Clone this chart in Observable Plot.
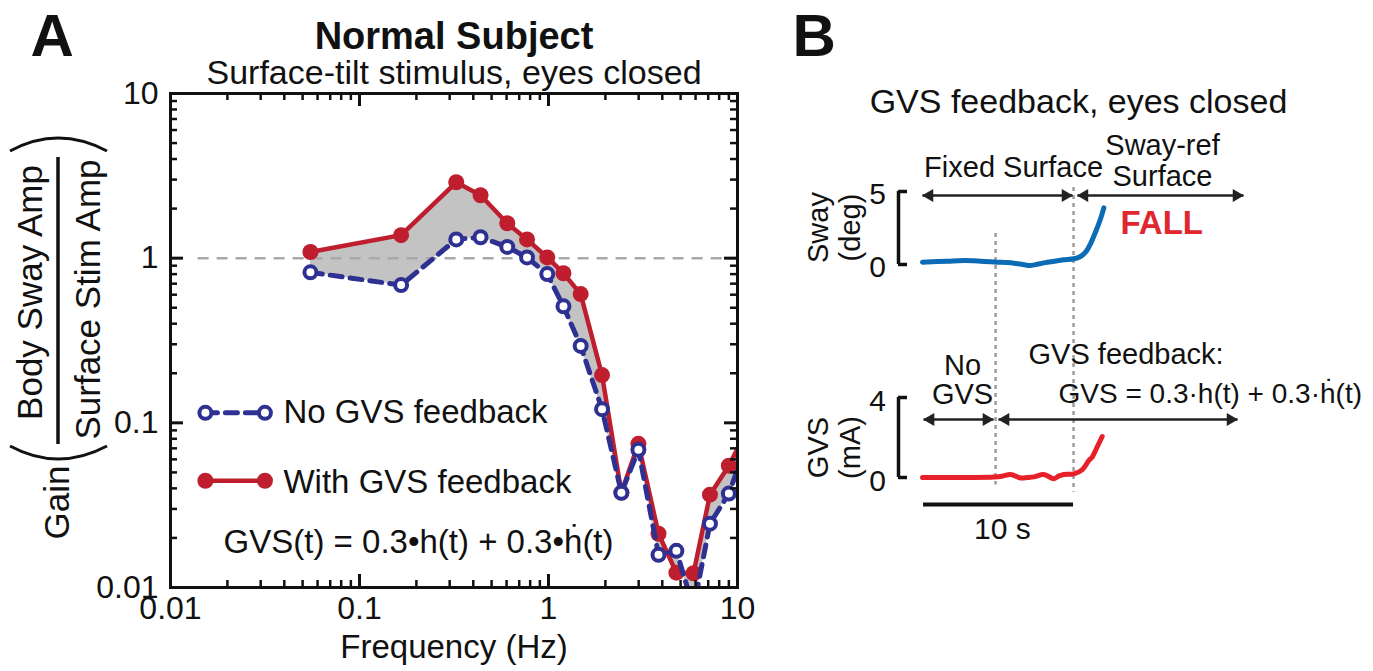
<!DOCTYPE html>
<html><head><meta charset="utf-8">
<script src="https://cdn.jsdelivr.net/npm/d3@7"></script>
<script src="https://cdn.jsdelivr.net/npm/@observablehq/plot@0.6"></script>
<style>
html,body{margin:0;padding:0;background:#fff;}
#wrap{position:relative;width:1373px;height:671px;overflow:hidden;}
#wrap svg{position:absolute;top:0;}
</style></head><body><div id="wrap"></div>
<script>
// ---------- Panel A data ----------
const freqHz      = [0.055, 0.166, 0.325, 0.437, 0.605, 0.77, 0.985, 1.2, 1.48, 1.92, 2.43, 2.99, 3.82, 4.75, 5.85, 7.15, 9.0, 11.2];
const gainWithGVS = [1.09, 1.38, 2.89, 2.41, 1.63, 1.30, 1.01, 0.81, 0.605, 0.195, 0.0377, 0.0746, 0.0212, 0.0123, 0.0122, 0.0366, 0.0549, 0.09];
const gainNoGVS   = [0.82, 0.686, 1.30, 1.34, 1.17, 1.01, 0.80, 0.51, 0.293, 0.121, 0.0376, 0.0686, 0.0158, 0.0167, 0.0075, 0.0244, 0.0372, 0.075];
const decadeTicks = [0.01, 0.1, 1, 10];
const minorMult   = [2, 3, 4, 5, 6, 7, 8, 9];
// legend (positions in Hz / gain units)
const legendSampleX = [0.0153, 0.0316];
const legendRows = [
  {label: "No GVS feedback",   gain: 0.115,  base: 0.1,    key: "blue"},
  {label: "With GVS feedback", gain: 0.0445, base: 0.0377, key: "red"}
];
const legendTextX = 0.0396;
const formulaA = {label: "GVS(t) = 0.3\u2022h(t) + 0.3\u2022\u1E23(t)", f: 0.0191, gain: 0.0161};

// ---------- Panel B data ----------
const swayT   = [0, 1.67, 2.78, 3.87, 4.98, 5.6, 6.09, 6.7, 7.2, 7.8, 8.31, 8.9, 9.42, 10.09, 10.53, 10.87, 11.2, 11.53, 11.87, 12.09];
const swayDeg = [0.16, 0.23, 0.27, 0.23, 0.16, 0.13, 0.09, 0.0, -0.07, 0.05, 0.16, 0.24, 0.32, 0.39, 0.55, 0.84, 1.42, 2.21, 3.13, 3.88];
const gvsT    = [0, 1.67, 3.0, 4.76, 5.3, 5.87, 6.53, 7.0, 7.42, 8.09, 8.76, 9.1, 9.42, 10.09, 10.64, 11.09, 11.31, 11.64, 11.98];
const gvsMA   = [0, 0, 0, 0.02, 0.06, 0.15, -0.02, 0.0, 0.03, 0.15, -0.06, 0.08, 0.15, 0.18, 0.38, 0.85, 1.02, 1.52, 2.05];
const swayScaleTicks = [0, 5];
const gvsScaleTicks  = [0, 4];
// annotations (seconds / deg)
const swayArrows = [{t1: 0, t2: 10.0, v: 4.73}, {t1: 10.33, t2: 21.4, v: 4.73}];
const dividers   = [{t: 4.87, v1: 2.12, v2: -15.1}, {t: 10.07, v1: 5.27, v2: -15.6}];
const swayTexts  = [
  {t: 6.07, v: 5.96, label: "Fixed Surface"},
  {t: 16.0, v: 7.5, label: "Sway-ref"},
  {t: 16.0, v: 5.41, label: "Surface"}
];
// annotations (seconds / mA)
const gvsArrows = [{t1: 0.07, t2: 4.73, v: 2.9}, {t1: 5.07, t2: 21.0, v: 2.9}];
const gvsNoTexts = [
  {t: 2.67, v: 5.12, label: "No"},
  {t: 2.67, v: 3.68, label: "GVS"}
];
const gvsFbTexts = [
  {t: 7.07, v: 5.7, label: "GVS feedback:", size: 29},
  {t: 9.07, v: 3.75, label: "GVS = 0.3\u00B7h(t) + 0.3\u00B7\u1E23(t)", size: 28}
];
const timeBar = {t1: 0.07, t2: 10.07, v: -1.35, label: "10 s", tl: 5.33, vl: -3.05};

const FONT = "'Liberation Sans', Arial, Helvetica, sans-serif";
const RED = "#be1e2d", BLUE = "#2e3192";

// ---------- Panel A ----------
const A = {width: 760, height: 671, mL: 170, mR: 23, mT: 93, mB: 84};
const fw = A.width - A.mL - A.mR, fh = A.height - A.mT - A.mB;
const minorTicks = [];
for (const d of decadeTicks.slice(0, 3)) for (const k of minorMult) minorTicks.push(+(d * k).toPrecision(2));
const gainData = freqHz.map((f, i) => ({f, red: gainWithGVS[i], blue: gainNoGVS[i]}));
const legendLines = legendRows.flatMap(r => legendSampleX.map(x => ({x, gain: r.gain, key: r.key})));
const MAJ = 13, MIN = 7;
const midY = A.mT + fh / 2;

const plotA = Plot.plot({
  width: A.width, height: A.height,
  marginLeft: A.mL, marginRight: A.mR, marginTop: A.mT, marginBottom: A.mB,
  x: {type: "log", domain: [0.01, 10]},
  y: {type: "log", domain: [0.01, 10]},
  style: {fontFamily: FONT, fontSize: "32px", background: "none", overflow: "visible", color: "#111"},
  marks: [
    Plot.areaY(gainData, {x: "f", y1: "blue", y2: "red", fill: "#c3c3c3", clip: true}),
    Plot.ruleY([1], {x1: 0.014, x2: 10, stroke: "#a9a9a9", strokeWidth: 2.5, strokeDasharray: "11,8"}),
    Plot.line(gainData, {x: "f", y: "red", stroke: RED, strokeWidth: 4.5, clip: true}),
    Plot.dot(gainData, {x: "f", y: "red", r: 8, fill: RED, clip: true}),
    Plot.line(gainData, {x: "f", y: "blue", stroke: BLUE, strokeWidth: 5, strokeDasharray: "12,8", clip: true}),
    Plot.dot(gainData, {x: "f", y: "blue", r: 6, fill: "white", stroke: BLUE, strokeWidth: 4, clip: true}),
    // legend
    Plot.line(legendLines.filter(d => d.key === "red"), {x: "x", y: "gain", stroke: RED, strokeWidth: 4.5}),
    Plot.dot(legendLines.filter(d => d.key === "red"), {x: "x", y: "gain", r: 8, fill: RED}),
    Plot.line(legendLines.filter(d => d.key === "blue"), {x: "x", y: "gain", stroke: BLUE, strokeWidth: 5, strokeDasharray: "12,8"}),
    Plot.dot(legendLines.filter(d => d.key === "blue"), {x: "x", y: "gain", r: 6, fill: "white", stroke: BLUE, strokeWidth: 4}),
    Plot.text(legendRows, {x: () => legendTextX, y: "base", text: "label", textAnchor: "start", lineAnchor: "bottom", fontSize: 33, fill: "#111"}),
    Plot.text([formulaA], {x: "f", y: "gain", text: "label", textAnchor: "start", lineAnchor: "bottom", fontSize: 33, fill: "#111"}),
    // inward ticks on all sides
    Plot.tickX(decadeTicks, {insetTop: fh - MAJ, strokeWidth: 3}),
    Plot.tickX(minorTicks, {insetTop: fh - MIN, strokeWidth: 2.5}),
    Plot.tickX(decadeTicks, {insetBottom: fh - MAJ, strokeWidth: 3}),
    Plot.tickX(minorTicks, {insetBottom: fh - MIN, strokeWidth: 2.5}),
    Plot.tickY(decadeTicks, {insetRight: fw - MAJ, strokeWidth: 3}),
    Plot.tickY(minorTicks, {insetRight: fw - MIN, strokeWidth: 2.5}),
    Plot.tickY(decadeTicks, {insetLeft: fw - MAJ, strokeWidth: 3}),
    Plot.tickY(minorTicks, {insetLeft: fw - MIN, strokeWidth: 2.5}),
    Plot.frame({strokeWidth: 3, stroke: "#111"}),
    Plot.axisX(decadeTicks, {tickSize: 0, tickPadding: 9, tickFormat: d => String(d), fontSize: 32, label: null}),
    Plot.axisY(decadeTicks, {tickSize: 0, tickPadding: 12, tickFormat: d => String(d), fontSize: 32, label: null}),
    Plot.text(["Frequency (Hz)"], {frameAnchor: "bottom", dy: 70, lineAnchor: "bottom", fontSize: 33}),
    // y-axis label pieces
    Plot.text(["Body Sway Amp"], {frameAnchor: "left", rotate: -90, textAnchor: "middle", lineAnchor: "middle", dx: 30 - A.mL, dy: 292 - midY, fontSize: 35}),
    Plot.text(["Surface Stim Amp"], {frameAnchor: "left", rotate: -90, textAnchor: "middle", lineAnchor: "middle", dx: 88 - A.mL, dy: 299 - midY, fontSize: 35}),
    Plot.text(["Gain"], {frameAnchor: "left", rotate: -90, textAnchor: "middle", lineAnchor: "middle", dx: 57 - A.mL, dy: 502 - midY, fontSize: 35}),
    // titles
    Plot.text(["Normal Subject"], {frameAnchor: "top", dy: -45, lineAnchor: "bottom", fontSize: 38, fontWeight: "bold"}),
    Plot.text(["Surface-tilt stimulus, eyes closed"], {frameAnchor: "top", dy: -10, lineAnchor: "bottom", fontSize: 34}),
    Plot.text(["A"], {frameAnchor: "top-left", dx: 30 - A.mL, dy: 55 - A.mT, textAnchor: "start", lineAnchor: "bottom", fontSize: 60, fontWeight: "bold"})
  ]
});
plotA.style.left = "0px";
// fraction bar and parentheses of the y label (decoration)
const gA = d3.select(plotA).append("g").attr("fill", "none").attr("stroke", "#111").attr("stroke-width", 3.5);
gA.append("line").attr("x1", 58).attr("x2", 58).attr("y1", 157).attr("y2", 444);
gA.append("path").attr("stroke-width", 3).attr("d", "M10,151 Q58,125 107,151");
gA.append("path").attr("stroke-width", 3).attr("d", "M10,446 Q58,472 107,446");
document.getElementById("wrap").appendChild(plotA);

// ---------- Panel B ----------
const B = {width: 603, height: 671, mL: 152, mR: 1};
const swayData = swayT.map((t, i) => ({t, v: swayDeg[i]}));
const gvsData = gvsT.map((t, i) => ({t, v: gvsMA[i]}));
const BR = -1.6, BRT = -1.0, LBLX = -3.0;
const arrowMarks = arr => [
  Plot.link(arr, {x1: "t1", x2: "t2", y1: "v", y2: "v", stroke: "#222", strokeWidth: 2.5}),
  Plot.dot(arr, {x: "t1", y: "v", symbol: "triangle", rotate: -90, r: 4.8, fill: "#222", dx: 7}),
  Plot.dot(arr, {x: "t2", y: "v", symbol: "triangle", rotate: 90, r: 4.8, fill: "#222", dx: -7})
];
const styleB = {fontFamily: FONT, fontSize: "29px", background: "none", overflow: "visible", color: "#111"};

const plotB1 = Plot.plot({
  width: B.width, height: B.height, marginLeft: B.mL, marginRight: B.mR, marginTop: 191, marginBottom: 407,
  x: {domain: [0, 30], axis: null},
  y: {domain: [0, 5], axis: null},
  style: styleB,
  marks: [
    Plot.ruleX(dividers, {x: "t", y1: "v1", y2: "v2", stroke: "#9c9c9c", strokeWidth: 2.5, strokeDasharray: "4,4"}),
    Plot.line(swayData, {x: "t", y: "v", stroke: "#0b6cb5", strokeWidth: 5, curve: "catmull-rom", strokeLinecap: "round"}),
    Plot.ruleX([BR], {y1: swayScaleTicks[0], y2: swayScaleTicks[1], stroke: "#111", strokeWidth: 3.5}),
    Plot.ruleY(swayScaleTicks, {x1: BR, x2: BRT, stroke: "#111", strokeWidth: 3.5}),
    Plot.text(swayScaleTicks, {x: () => LBLX, y: d => d, text: d => String(d), fontSize: 30, dy: 3}),
    ...arrowMarks(swayArrows),
    Plot.text(swayTexts, {x: "t", y: "v", text: "label", lineAnchor: "bottom", fontSize: 29}),
    Plot.text(["FALL"], {x: () => 13.2, y: () => 2.12, textAnchor: "start", lineAnchor: "bottom", fontSize: 33, fontWeight: "bold", fill: "#e0262f"}),
    Plot.text(["Sway", "(deg)"], {x: (d, i) => [-6.93, -4.8][i], y: () => 2.53, rotate: -90, fontSize: 29}),
    Plot.text(["GVS feedback, eyes closed"], {frameAnchor: "top-left", dx: 156, dy: -79, textAnchor: "middle", lineAnchor: "bottom", fontSize: 34}),
    Plot.text(["B"], {frameAnchor: "top-left", dx: -130, dy: -136, textAnchor: "start", lineAnchor: "bottom", fontSize: 60, fontWeight: "bold"})
  ]
});
plotB1.style.left = "770px";
document.getElementById("wrap").appendChild(plotB1);

const plotB2 = Plot.plot({
  width: B.width, height: B.height, marginLeft: B.mL, marginRight: B.mR, marginTop: 397, marginBottom: 194,
  x: {domain: [0, 30], axis: null},
  y: {domain: [0, 4], axis: null},
  style: styleB,
  marks: [
    Plot.line(gvsData, {x: "t", y: "v", stroke: "#e8202a", strokeWidth: 5, curve: "catmull-rom", strokeLinecap: "round"}),
    Plot.ruleX([BR], {y1: gvsScaleTicks[0], y2: gvsScaleTicks[1], stroke: "#111", strokeWidth: 3.5}),
    Plot.ruleY(gvsScaleTicks, {x1: BR, x2: BRT, stroke: "#111", strokeWidth: 3.5}),
    Plot.text(gvsScaleTicks, {x: () => LBLX, y: d => d, text: d => String(d), fontSize: 30, dy: 4}),
    ...arrowMarks(gvsArrows),
    Plot.text(gvsNoTexts, {x: "t", y: "v", text: "label", textAnchor: "middle", lineAnchor: "bottom", fontSize: 29}),
    Plot.text(gvsFbTexts, {x: "t", y: "v", text: "label", textAnchor: "start", lineAnchor: "bottom", fontSize: d => d.size}),
    Plot.text(["GVS", "(mA)"], {x: (d, i) => [-6.93, -4.8][i], y: () => 1.5, rotate: -90, fontSize: 29}),
    Plot.ruleY([timeBar], {x1: "t1", x2: "t2", y: "v", stroke: "#111", strokeWidth: 4}),
    Plot.text([timeBar], {x: "tl", y: "vl", text: "label", lineAnchor: "bottom", fontSize: 30})
  ]
});
plotB2.style.left = "770px";
document.getElementById("wrap").appendChild(plotB2);
</script>
</body></html>
